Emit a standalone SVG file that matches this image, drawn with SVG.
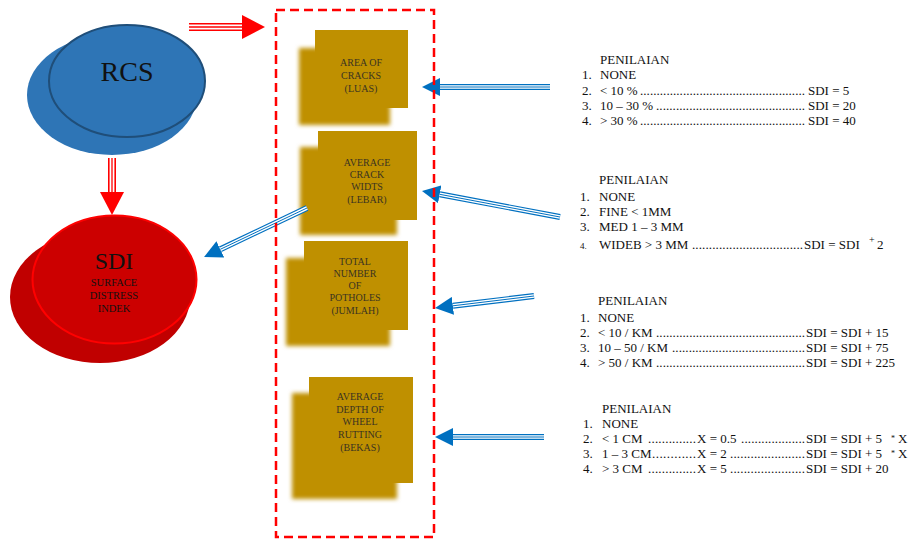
<svg xmlns="http://www.w3.org/2000/svg" width="911" height="540" viewBox="0 0 911 540" font-family="'Liberation Serif', 'DejaVu Serif', serif">
<style>
  text { font-family: 'Liberation Serif', 'DejaVu Serif', serif; }
  .t { fill: #111; font-size: 13px; }
  .sm { font-size: 9px; }
  .box { fill: #bf9000; }
  .boxback { fill: #bf9000; filter: url(#blur); }
  .bt { fill: #3a3320; font-size: 10px; text-anchor: middle; }
  .bo { fill: none; stroke: #0070c0; stroke-width: 6; }
  .bw { fill: none; stroke: #ffffff; stroke-width: 3.6; }
  .bc { fill: none; stroke: #0070c0; stroke-width: 1; }
  .ro { fill: none; stroke: #ff0000; stroke-width: 8; }
  .rw { fill: none; stroke: #ffffff; stroke-width: 4.8; }
  .rc { fill: none; stroke: #ff0000; stroke-width: 1.3; }
</style>
<defs>
  <filter id="blur" x="-10%" y="-10%" width="120%" height="120%">
    <feGaussianBlur stdDeviation="2"/>
  </filter>
  <marker id="bh" markerUnits="userSpaceOnUse" markerWidth="18" markerHeight="18" viewBox="0 0 18 18" refX="0" refY="9" orient="auto">
    <path d="M0,0 L18,9 L0,18 z" fill="#0070c0"/>
  </marker>
  <marker id="rh" markerUnits="userSpaceOnUse" markerWidth="23" markerHeight="24" viewBox="0 0 23 24" refX="0" refY="12" orient="auto">
    <path d="M0,0 L23,12 L0,24 z" fill="#ff0000"/>
  </marker>
</defs>
<rect width="911" height="540" fill="#ffffff"/>

<!-- RCS node -->
<g id="rcs">
  <ellipse cx="112" cy="95" rx="85" ry="60" fill="#2e75b6"/>
  <ellipse cx="127" cy="81" rx="78" ry="56" fill="#2e75b6" stroke="#1f4e79" stroke-width="2"/>
  <text class="t" x="127" y="81" text-anchor="middle" style="font-size:28px">RCS</text>
</g>

<!-- SDI node -->
<g id="sdi">
  <ellipse cx="100" cy="297" rx="90" ry="66" fill="#c00000"/>
  <ellipse cx="114.5" cy="279.5" rx="82" ry="64" fill="#cc0000" stroke="#ff0000" stroke-width="2"/>
  <text class="t" x="114" y="269" text-anchor="middle" style="font-size:24px">SDI</text>
  <text class="t" x="114" y="286" text-anchor="middle" style="font-size:10.5px">SURFACE</text>
  <text class="t" x="114" y="299" text-anchor="middle" style="font-size:10.5px">DISTRESS</text>
  <text class="t" x="114" y="312" text-anchor="middle" style="font-size:10.5px">INDEK</text>
</g>

<!-- Gold boxes -->
<g id="box-area">
  <rect class="boxback" x="299" y="48" width="91" height="77"/>
  <rect class="box" x="315" y="30" width="93" height="78"/>
  <text class="bt" x="361" y="66">AREA OF</text>
  <text class="bt" x="361" y="79">CRACKS</text>
  <text class="bt" x="361" y="92">(LUAS)</text>
</g>
<g id="box-width">
  <rect class="boxback" x="300" y="147" width="97" height="88"/>
  <rect class="box" x="318" y="131" width="99" height="89"/>
  <text class="bt" x="367" y="166">AVERAGE</text>
  <text class="bt" x="367" y="178">CRACK</text>
  <text class="bt" x="367" y="190">WIDTS</text>
  <text class="bt" x="367" y="203">(LEBAR)</text>
</g>
<g id="box-potholes">
  <rect class="boxback" x="286" y="258" width="104" height="88"/>
  <rect class="box" x="304" y="241" width="104" height="89"/>
  <text class="bt" x="355" y="265">TOTAL</text>
  <text class="bt" x="355" y="277">NUMBER</text>
  <text class="bt" x="355" y="289">OF</text>
  <text class="bt" x="355" y="301">POTHOLES</text>
  <text class="bt" x="355" y="314">(JUMLAH)</text>
</g>
<g id="box-rutting">
  <rect class="boxback" x="292" y="393" width="105" height="106"/>
  <rect class="box" x="309" y="377" width="104" height="106"/>
  <text class="bt" x="360" y="400">AVERAGE</text>
  <text class="bt" x="360" y="413">DEPTH OF</text>
  <text class="bt" x="360" y="425">WHEEL</text>
  <text class="bt" x="360" y="438">RUTTING</text>
  <text class="bt" x="360" y="451">(BEKAS)</text>
</g>

<!-- Connectors -->
<g id="connectors">
  <path class="ro" d="M189,27 L242,27" marker-end="url(#rh)"/>
  <path class="rw" d="M189,27 L242,27"/>
  <path class="rc" d="M189,27 L242,27"/>
  <path class="ro" d="M112,158 L112,192" marker-end="url(#rh)"/>
  <path class="rw" d="M112,158 L112,192"/>
  <path class="rc" d="M112,158 L112,192"/>
  <path class="bo" d="M307,208 L220.3,249.3" marker-end="url(#bh)"/>
  <path class="bw" d="M307,208 L220.3,249.3"/>
  <path class="bc" d="M307,208 L220.3,249.3"/>
  <path class="bo" d="M550,87 L440,87" marker-end="url(#bh)"/>
  <path class="bw" d="M550,87 L440,87"/>
  <path class="bc" d="M550,87 L440,87"/>
  <path class="bo" d="M560,217 L439.7,194.3" marker-end="url(#bh)"/>
  <path class="bw" d="M560,217 L439.7,194.3"/>
  <path class="bc" d="M560,217 L439.7,194.3"/>
  <path class="bo" d="M534,296 L452.9,305.8" marker-end="url(#bh)"/>
  <path class="bw" d="M534,296 L452.9,305.8"/>
  <path class="bc" d="M534,296 L452.9,305.8"/>
  <path class="bo" d="M544,437 L453,437" marker-end="url(#bh)"/>
  <path class="bw" d="M544,437 L453,437"/>
  <path class="bc" d="M544,437 L453,437"/>
</g>

<!-- Dashed group container -->
<g id="group-box">
  <rect x="276" y="10" width="158" height="527" fill="none" stroke="#ff0000" stroke-width="2.5" stroke-dasharray="9,5"/>
</g>

<!-- Rating block 1 -->
<g id="rating-area">
  <text class="t" x="600" y="64">PENILAIAN</text>
  <text class="t" x="582" y="79">1.</text><text class="t" x="600" y="79">NONE</text>
  <text class="t" x="582" y="95">2.</text><text class="t" x="600" y="95">&lt; 10 %</text>
  <text class="t" x="640" y="95" textLength="165" lengthAdjust="spacing">..................................................</text>
  <text class="t" x="808" y="95">SDI = 5</text>
  <text class="t" x="582" y="110">3.</text><text class="t" x="600" y="110">10 – 30 %</text>
  <text class="t" x="656" y="110" textLength="149" lengthAdjust="spacing">.............................................</text>
  <text class="t" x="808" y="110">SDI = 20</text>
  <text class="t" x="582" y="125">4.</text><text class="t" x="600" y="125">&gt; 30 %</text>
  <text class="t" x="640" y="125" textLength="165" lengthAdjust="spacing">..................................................</text>
  <text class="t" x="808" y="125">SDI = 40</text>
</g>

<!-- Rating block 2 -->
<g id="rating-width">
  <text class="t" x="599" y="184">PENILAIAN</text>
  <text class="t" x="580" y="201">1.</text><text class="t" x="599" y="201">NONE</text>
  <text class="t" x="580" y="216">2.</text><text class="t" x="599" y="216">FINE &lt; 1MM</text>
  <text class="t" x="580" y="231">3.</text><text class="t" x="599" y="231">MED 1 – 3 MM</text>
  <text class="t sm" x="580" y="249">4.</text><text class="t" x="599" y="249">WIDEB &gt; 3 MM</text>
  <text class="t" x="692" y="249" textLength="111" lengthAdjust="spacing">.................................</text>
  <text class="t" x="804" y="249">SDI = SDI</text>
  <text class="t" x="869" y="243" style="font-size:10px">+</text>
  <text class="t" x="877" y="249">2</text>
</g>

<!-- Rating block 3 -->
<g id="rating-potholes">
  <text class="t" x="598" y="305">PENILAIAN</text>
  <text class="t" x="580" y="322">1.</text><text class="t" x="598" y="322">NONE</text>
  <text class="t" x="580" y="337">2.</text><text class="t" x="598" y="337">&lt; 10 / KM</text>
  <text class="t" x="656" y="337" textLength="149" lengthAdjust="spacing">.............................................</text>
  <text class="t" x="806" y="337">SDI = SDI + 15</text>
  <text class="t" x="580" y="352">3.</text><text class="t" x="598" y="352">10 – 50 / KM</text>
  <text class="t" x="672" y="352" textLength="133" lengthAdjust="spacing">........................................</text>
  <text class="t" x="806" y="352">SDI = SDI + 75</text>
  <text class="t" x="580" y="367">4.</text><text class="t" x="598" y="367">&gt; 50 / KM</text>
  <text class="t" x="656" y="367" textLength="149" lengthAdjust="spacing">.............................................</text>
  <text class="t" x="806" y="367">SDI = SDI + 225</text>
</g>

<!-- Rating block 4 -->
<g id="rating-rutting">
  <text class="t" x="602" y="413">PENILAIAN</text>
  <text class="t" x="583" y="428">1.</text><text class="t" x="602" y="428">NONE</text>
  <text class="t" x="583" y="443">2.</text><text class="t" x="602" y="443">&lt; 1 CM</text>
  <text class="t" x="648" y="443" textLength="48" lengthAdjust="spacing">..............</text>
  <text class="t" x="697" y="443">X = 0.5</text>
  <text class="t" x="741" y="443" textLength="64" lengthAdjust="spacing">...................</text>
  <text class="t" x="806" y="443">SDI = SDI + 5</text>
  <text class="t" x="891" y="441" style="font-size:8px">*</text>
  <text class="t" x="898" y="443">X</text>
  <text class="t" x="583" y="458">3.</text><text class="t" x="602" y="458">1 – 3 CM</text>
  <text class="t" x="652" y="458" textLength="44" lengthAdjust="spacing">............</text>
  <text class="t" x="697" y="458">X = 2</text>
  <text class="t" x="730" y="458" textLength="75" lengthAdjust="spacing">......................</text>
  <text class="t" x="806" y="458">SDI = SDI + 5</text>
  <text class="t" x="891" y="456" style="font-size:8px">*</text>
  <text class="t" x="898" y="458">X</text>
  <text class="t" x="583" y="473">4.</text><text class="t" x="602" y="473">&gt; 3 CM</text>
  <text class="t" x="648" y="473" textLength="48" lengthAdjust="spacing">..............</text>
  <text class="t" x="697" y="473">X = 5</text>
  <text class="t" x="730" y="473" textLength="75" lengthAdjust="spacing">......................</text>
  <text class="t" x="806" y="473">SDI = SDI + 20</text>
</g>
</svg>
